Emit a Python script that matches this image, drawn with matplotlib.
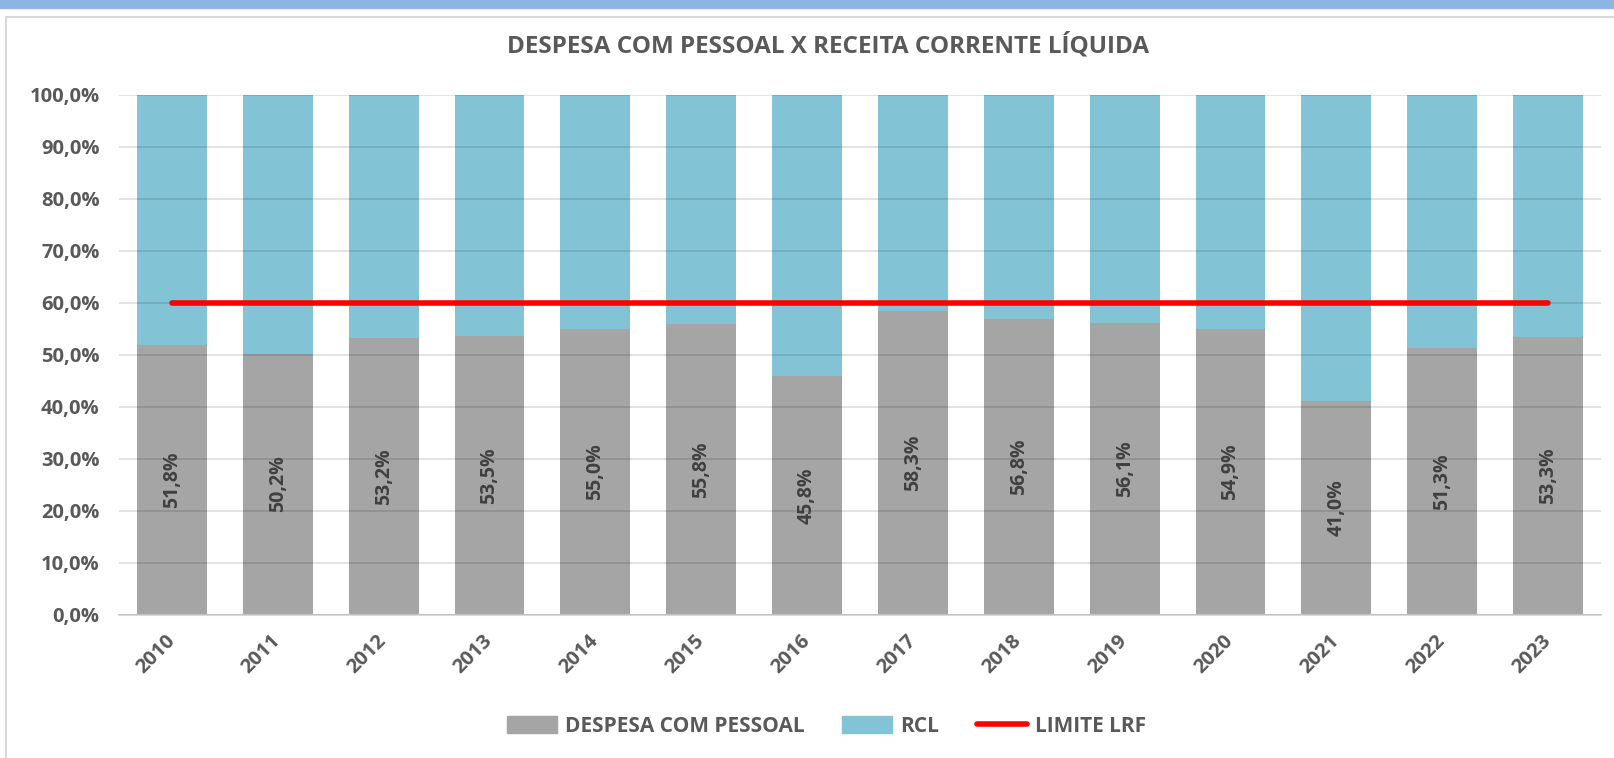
import matplotlib.pyplot as plt
from matplotlib.patches import Patch, Rectangle
from matplotlib.lines import Line2D
from matplotlib.ticker import FuncFormatter

plt.rcParams['font.family'] = ['Open Sans', 'DejaVu Sans']

anos = ['2010', '2011', '2012', '2013', '2014', '2015', '2016',
        '2017', '2018', '2019', '2020', '2021', '2022', '2023']
despesa = [51.8, 50.2, 53.2, 53.5, 55.0, 55.8, 45.8,
           58.3, 56.8, 56.1, 54.9, 41.0, 51.3, 53.3]
limite_lrf = 60.0

cinza = '#A5A5A5'
azul = '#82C4D6'
vermelho = '#FF0000'
texto = '#595959'

rcl = [100 - d for d in despesa]
x = list(range(len(anos)))

fig = plt.figure(figsize=(16.14, 7.58), dpi=100)
ax = fig.add_axes([0.0737, 0.1893, 0.9183, 0.6857])

# moldura estilo excel
fig.patches.append(Rectangle((0, 0.989), 1, 0.011, transform=fig.transFigure,
                             color='#8EB4E3', zorder=0))
fig.patches.append(Rectangle((0.004, -0.01), 1.0, 0.988, transform=fig.transFigure,
                             fill=False, edgecolor='#D9D9D9', lw=1.5, zorder=0))

ax.bar(x, despesa, width=0.66, color=cinza, zorder=2)
ax.bar(x, rcl, width=0.66, bottom=despesa, color=azul, zorder=2)
ax.plot([x[0], x[-1]], [limite_lrf, limite_lrf], color=vermelho, lw=4,
        solid_capstyle='round', zorder=4)

for xi, d in zip(x, despesa):
    ax.text(xi, d / 2, f'{d:.1f}%'.replace('.', ','), rotation=90,
            ha='center', va='center', fontsize=14, fontweight='bold',
            color='#404040', zorder=5)

ax.set_xlim(-0.5, len(anos) - 0.5)
ax.set_ylim(0, 100)
ax.set_yticks(range(0, 101, 10))
ax.yaxis.set_major_formatter(FuncFormatter(lambda v, p: f'{v:.1f}%'.replace('.', ',')))
ax.grid(axis='y', color='black', alpha=0.13, lw=1.2, zorder=3)
ax.set_axisbelow(False)

ax.set_xticks(x)
ax.set_xticklabels(anos, rotation=45, ha='right', va='center', rotation_mode='anchor')
for spine in ['top', 'right', 'left']:
    ax.spines[spine].set_visible(False)
ax.spines['bottom'].set_color('#D9D9D9')
ax.spines['bottom'].set_linewidth(1.5)
ax.tick_params(axis='both', length=0, colors=texto, labelsize=14.5)
ax.tick_params(axis='x', pad=17)
ax.tick_params(axis='y', pad=14)
for lbl in ax.get_xticklabels() + ax.get_yticklabels():
    lbl.set_fontweight('bold')

fig.text(0.513, 0.939, 'DESPESA COM PESSOAL X RECEITA CORRENTE LÍQUIDA',
         ha='center', va='center', fontsize=17.5, fontweight='bold', color=texto)

handles = [Patch(color=cinza, label='DESPESA COM PESSOAL'),
           Patch(color=azul, label='RCL'),
           Line2D([0], [0], color=vermelho, lw=4, solid_capstyle='round', label='LIMITE LRF')]
leg = fig.legend(handles=handles, loc='center', bbox_to_anchor=(0.512, 0.042), ncol=3,
                 frameon=False, handlelength=2.4, handleheight=0.9, handletextpad=0.4,
                 columnspacing=1.8, prop={'weight': 'bold', 'size': 15})
for t in leg.get_texts():
    t.set_color(texto)

fig.savefig('out.png', dpi=100)
